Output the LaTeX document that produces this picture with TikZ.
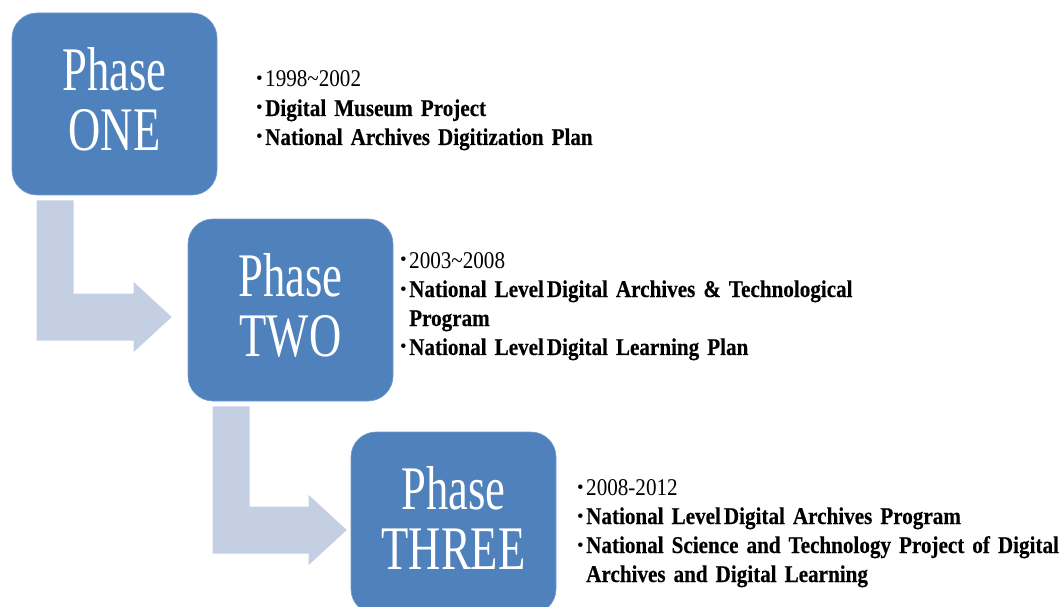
\documentclass[tikz,border=0pt]{standalone}
\usepackage{fontspec}
\setmainfont{Liberation Serif}
\newfontfamily\boxfont[FakeStretch=0.72]{Liberation Serif}
\newfontfamily\listfont[FakeStretch=0.88, BoldFeatures={FakeBold=0.3}]{Liberation Serif}
\usetikzlibrary{calc}
\definecolor{boxblue}{HTML}{4F81BD}
\definecolor{arrowblue}{HTML}{C5CFE3}
\newcommand\bl{\makebox[9pt][l]{\raisebox{2pt}{\fontsize{19}{19}\selectfont\normalfont •}}}
\newcommand\lv{\hspace{3pt}}
\newcommand\tightspaces{\spaceskip 5.5pt plus 1pt\relax}
\newcommand\bentarrow[3]{%
  \path ($(#1.south west)+(25,5)$) coordinate (#1a)
        ($(#2.west)+(-#3,7)$) coordinate (#1t);
  \fill[arrowblue] let \p1=(#1a), \p2=(#1t) in
    (\x1,\y1) -- (\x1+37pt,\y1) -- (\x1+37pt,\y2+23.5pt)
    -- (\x2-38pt,\y2+23.5pt) -- (\x2-38pt,\y2+35pt) -- (\x2,\y2)
    -- (\x2-38pt,\y2-35pt) -- (\x2-38pt,\y2-23.5pt) -- (\x1,\y2-23.5pt) -- cycle;
}
\tikzset{
  phasebox/.style={fill=boxblue, draw=boxblue!80!white, line width=0.6pt, rounded corners=25pt,
    minimum width=205pt, minimum height=182pt, inner sep=0pt, align=center,
    text=white, font=\boxfont\fontsize{62}{60}\selectfont},
  listtext/.style={anchor=base west, inner sep=0pt, align=left, text width=520pt,
    font=\listfont\fontsize{24}{29}\selectfont\tightspaces}
}
\newcommand\lowstrut{\rule[-10pt]{0pt}{10pt}}
\begin{document}
\begin{tikzpicture}[x=1pt,y=-1pt]
\clip (0,0) rectangle (1061,607);
\fill[white] (0,0) rectangle (1061,607);
\node[phasebox] (p1) at (114.5,104) {Phase\\ONE\lowstrut};
\node[phasebox] (p2) at (290.5,310) {Phase\\TWO\lowstrut};
\node[phasebox] (p3) at (453.5,523) {Phase\\THREE\lowstrut};
\bentarrow{p1}{p2}{16}
\bentarrow{p2}{p3}{4}
\node[listtext] (t1) at (256,87) {\bl 1998\textasciitilde 2002\\
  \bl\textbf{Digital Museum Project}\\
  \bl\textbf{National Archives Digitization Plan}};
\node[listtext] (t2) at (400,268) {\bl 2003\textasciitilde 2008\\
  \bl\textbf{National Level\lv Digital Archives \& Technological}\\
  \hspace*{9pt}\textbf{Program}\\
  \bl\textbf{National Level\lv Digital Learning Plan}};
\node[listtext] (t3) at (577,495) {\bl 2008-2012\\
  \bl\textbf{National Level\lv Digital Archives Program}\\
  \bl\textbf{National Science and Technology Project of Digital}\\
  \hspace*{9pt}\textbf{Archives and Digital Learning}};
\end{tikzpicture}
\end{document}
